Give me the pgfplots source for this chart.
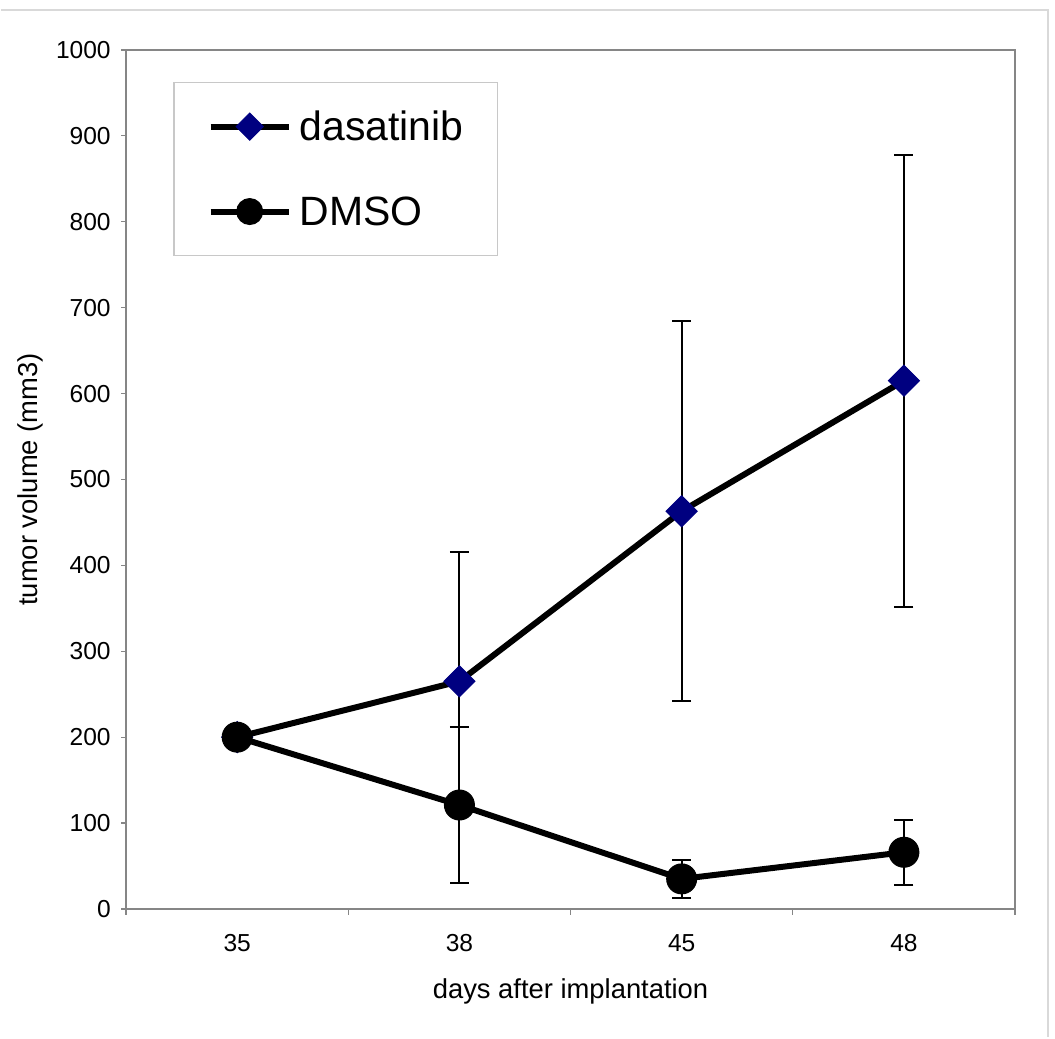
\documentclass[border=0pt]{standalone}
\usepackage{fontspec}
\setmainfont{Liberation Sans}
\usepackage{pgfplots}
\pgfplotsset{compat=1.18}
\definecolor{navyblue}{RGB}{0,0,128}
\definecolor{axisgray}{RGB}{134,134,134}
\definecolor{framegray}{RGB}{217,217,217}
\definecolor{legendgray}{RGB}{200,200,200}

\begin{document}
\begin{tikzpicture}
\begin{axis}[
    name=ax,
    scale only axis,
    width=445pt, height=430pt,
    xmin=-0.5, xmax=3.5,
    ymin=0, ymax=1000,
    xtick={0,1,2,3},
    xticklabels={35,38,45,48},
    major x tick style={draw=none},
    minor xtick={-0.5,0.5,1.5,2.5,3.5},
    ytick distance=100,
    tick align=outside,
    xtick pos=bottom, ytick pos=left,
    major tick length=2.5pt, minor tick length=3pt,
    tick style={axisgray, line width=0.6pt},
    axis line style={axisgray, line width=1.2pt},
    /pgf/number format/assume math mode=true,
    /pgf/number format/1000 sep={},
    ticklabel style={font=\fontsize{12.3}{14}\selectfont, text=black},
    xticklabel style={anchor=base, yshift=-19pt},
    yticklabel style={inner xsep=5pt},
    xlabel={days after implantation},
    ylabel={tumor volume (mm3)},
    xlabel style={at={(axis description cs:0.5,-0.1047)}, anchor=base, font=\fontsize{13.7}{16}\selectfont},
    ylabel style={at={(axis description cs:-0.1078,0.5)}, anchor=center, font=\fontsize{13.7}{16}\selectfont},
    legend style={
        at={(axis description cs:0.0528,0.9628)}, anchor=north west,
        draw=legendgray, line width=0.8pt, fill=white,
        inner xsep=17pt, inner ysep=15pt,
        row sep=28.5pt,
        font=\fontsize{20.5}{24}\selectfont,
        nodes={inner sep=0pt, text height=14pt, text depth=0pt},
    },
    legend cell align=left,
    legend image code/.code={
        \draw[#1, mark repeat=2, mark phase=2] plot coordinates {(0pt,0pt) (19.5pt,0pt) (39pt,0pt)};
        \path (43pt,0pt);
    },
]
\addplot[black, line width=3pt, mark=square*, mark size=5.5pt,
    mark options={navyblue, fill=navyblue, line width=0.5pt, rotate=45},
    legend image post style={mark size=4.8pt},
    error bars/.cd, y dir=both, y explicit,
    error bar style={black, line width=1pt},
    error mark options={black, line width=1pt, mark size=4.75pt, rotate=90}]
coordinates {(0,200) +- (0,0) (1,265) +- (0,151) (2,463) +- (0,221) (3,615) +- (0,263)};
\addlegendentry{dasatinib}
\addplot[black, line width=3pt, mark=*, mark size=7.5pt,
    mark options={black, fill=black, line width=0.5pt},
    legend image post style={mark size=6.5pt},
    error bars/.cd, y dir=both, y explicit,
    error bar style={black, line width=1pt},
    error mark options={black, line width=1pt, mark size=4.75pt, rotate=90}]
coordinates {(0,200) +- (0,0) (1,121) +- (0,91) (2,35) +- (0,22) (3,66) +- (0,38)};
\addlegendentry{DMSO}
\end{axis}
\draw[framegray, line width=1.2pt] ([shift={(-62.5pt,450pt)}]ax.south west) -- ([shift={(461.5pt,450pt)}]ax.south west) -- ([shift={(461.5pt,-64pt)}]ax.south west);
\path ([shift={(-62.5pt,-64pt)}]ax.south west) rectangle ([shift={(465pt,455pt)}]ax.south west);
\end{tikzpicture}
\end{document}
